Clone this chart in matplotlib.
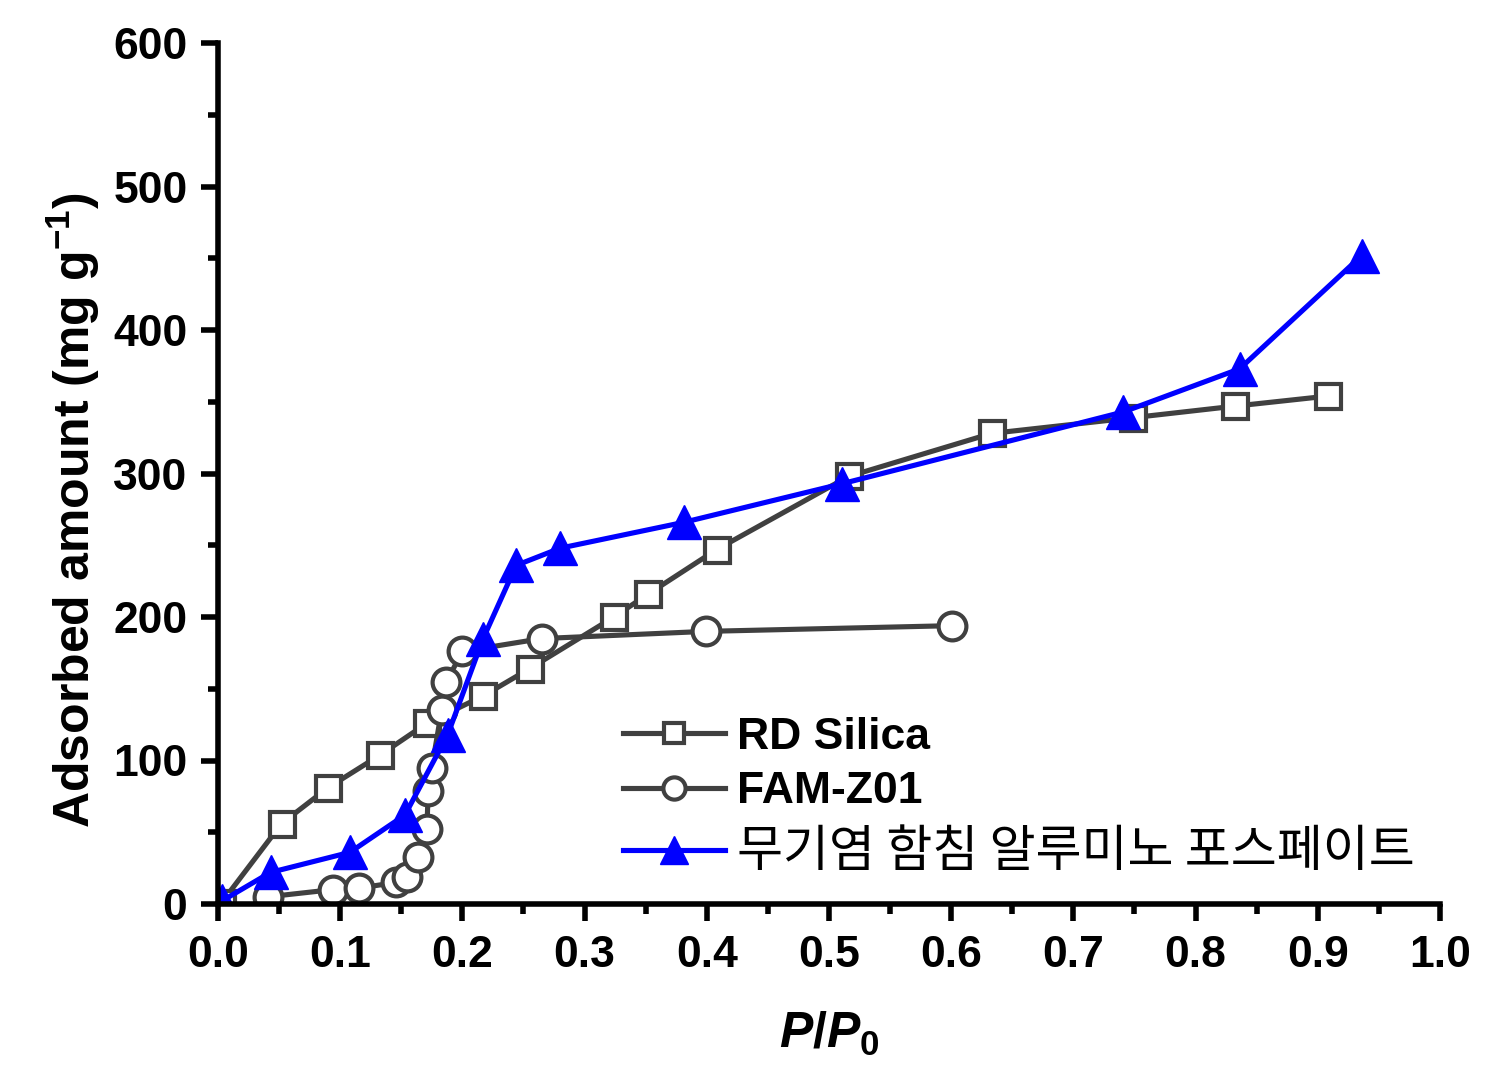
import matplotlib
matplotlib.use("Agg")
import matplotlib.pyplot as plt
from matplotlib.ticker import MultipleLocator, FormatStrFormatter

# Data
rd_x = [0.003, 0.052, 0.090, 0.133, 0.171, 0.217, 0.255, 0.324, 0.352, 0.408, 0.516, 0.633, 0.749, 0.832, 0.908]
rd_y = [1, 56, 81, 104, 126, 145, 164, 200, 216, 247, 298, 328, 339, 347, 354]

fam_x = [0.041, 0.094, 0.115, 0.146, 0.155, 0.164, 0.171, 0.172, 0.175, 0.183, 0.187, 0.200, 0.265, 0.399, 0.601]
fam_y = [5, 10, 11, 15, 19, 33, 52, 79, 95, 135, 155, 176, 185, 190, 194]

alpo_x = [0.003, 0.043, 0.108, 0.153, 0.188, 0.217, 0.244, 0.280, 0.381, 0.511, 0.741, 0.836, 0.936]
alpo_y = [2, 22, 36, 62, 118, 185, 236, 248, 266, 293, 343, 373, 452]

labels = ["RD Silica", "FAM-Z01", "무기염 함침 알루미노 포스페이트"]

plt.rcParams["font.family"] = ["Liberation Sans", "Noto Sans CJK KR"]
plt.rcParams["mathtext.fontset"] = "custom"
plt.rcParams["mathtext.rm"] = "Liberation Sans:bold"
plt.rcParams["mathtext.it"] = "Liberation Sans:bold:italic"
plt.rcParams["mathtext.bf"] = "Liberation Sans:bold"

fig = plt.figure(figsize=(14.95, 10.8), dpi=100)
ax = fig.add_axes([0.1458, 0.163, 0.8174, 0.797])

grey = "#404040"
ax.plot(rd_x, rd_y, color=grey, lw=3.7, marker="s", ms=18, mfc="white", mec=grey, mew=3, label=labels[0])
ax.plot(fam_x, fam_y, color=grey, lw=3.7, marker="o", ms=20, mfc="white", mec=grey, mew=3, label=labels[1])
ax.plot(alpo_x, alpo_y, color="#0000ff", lw=3.7, marker="^", ms=25, mfc="#0000ff", mec="#0000ff", label=labels[2])

ax.set_xlim(0, 1.0)
ax.set_ylim(0, 600)
ax.xaxis.set_major_locator(MultipleLocator(0.1))
ax.xaxis.set_minor_locator(MultipleLocator(0.05))
ax.yaxis.set_major_locator(MultipleLocator(100))
ax.yaxis.set_minor_locator(MultipleLocator(50))
ax.xaxis.set_major_formatter(FormatStrFormatter("%.1f"))

for side in ["top", "right"]:
    ax.spines[side].set_visible(False)
for side in ["left", "bottom"]:
    ax.spines[side].set_linewidth(4)

ax.tick_params(which="major", direction="out", length=12, width=4, labelsize=32, pad=10)
ax.tick_params(which="minor", direction="out", length=7, width=4)
for lab in ax.get_xticklabels() + ax.get_yticklabels():
    lab.set_fontweight("bold")

ax.set_xlabel(r"$P$/$P_0$", fontsize=36, fontweight="bold", labelpad=25)
ax.set_ylabel(r"Adsorbed amount (mg g$^{-1}$)", fontsize=36, fontweight="bold")
ax.yaxis.set_label_coords(-0.095, 0.458)

leg = ax.legend(loc="lower left", bbox_to_anchor=(0.317, 0.01), frameon=False,
                handlelength=2.3, handletextpad=0.27, labelspacing=0.3, fontsize=32, borderaxespad=0)
for i, t in enumerate(leg.get_texts()):
    if i < 2:
        t.set_fontweight("bold")
    else:
        t.set_family(["Noto Sans CJK KR"])
        t.set_fontsize(36)
for h in leg.legend_handles:
    h.set_markersize(h.get_markersize() * 0.8)

fig.savefig("out.png", dpi=100)
